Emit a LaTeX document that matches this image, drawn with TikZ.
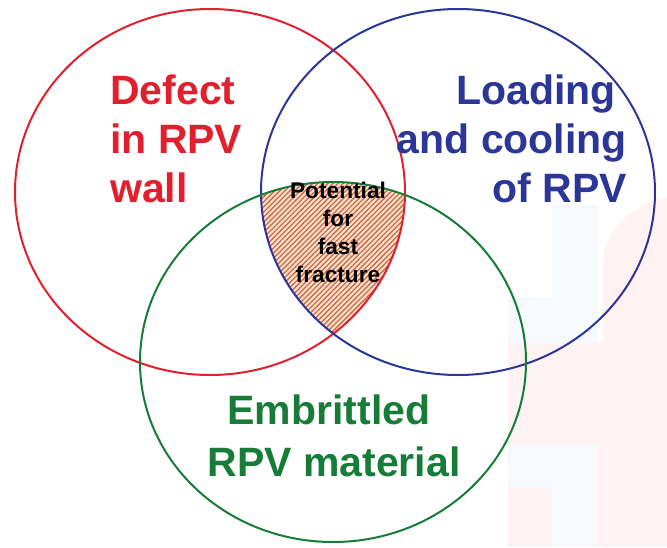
\documentclass[tikz,border=0pt]{standalone}
\usepackage{fontspec}
\setmainfont{Liberation Sans}
\usetikzlibrary{patterns.meta}

\definecolor{vred}{RGB}{224,32,44}
\definecolor{vblue}{RGB}{44,54,150}
\definecolor{vgreen}{RGB}{22,124,56}
\definecolor{hatchline}{RGB}{206,104,66}
\definecolor{hatchbg}{RGB}{250,226,208}
\definecolor{wmpink}{RGB}{254,242,242}
\definecolor{wmblue}{RGB}{246,249,254}

\begin{document}
\begin{tikzpicture}[x=1pt,y=-1pt,
  ring/.style={line width=2pt},
  biglabel/.style={font=\fontsize{41}{49}\selectfont\bfseries, inner sep=0pt},
  smalllabel/.style={font=\fontsize{22.7}{28}\selectfont\bfseries, inner sep=0pt, text=black},
]
\useasboundingbox (0,0) rectangle (667,547);

% faint logo watermark on the right
\fill[wmblue] (552,205) rectangle (598,343);
\fill[wmblue] (508,297) rectangle (598,343);
\fill[wmpink] (508,343) rectangle (667,547);
\fill[wmpink] (603,343) -- (603,265) .. controls (603,230) and (630,205) .. (667,198) -- (667,343) -- cycle;
\fill[wmblue] (508,445) rectangle (598,487);
\fill[wmblue] (552,487) rectangle (598,547);

% triple overlap: hatched region
\begin{scope}
  \clip (210,192) ellipse [x radius=195, y radius=183];
  \clip (458,192) ellipse [x radius=197, y radius=183];
  \fill[hatchbg] (333,362) ellipse [x radius=193, y radius=180];
  \fill[pattern={Lines[angle=45, distance=3.6pt, line width=1.3pt]}, pattern color=hatchline]
    (333,362) ellipse [x radius=193, y radius=180];
\end{scope}

% the three sets
\draw[ring, vred]   (210,192) ellipse [x radius=195, y radius=183];
\draw[ring, vblue]  (458,192) ellipse [x radius=197, y radius=183];
\draw[ring, vgreen] (333,362) ellipse [x radius=193, y radius=180];

% labels of the sets
\node[biglabel, text=vred, anchor=base west] (defect1) at (110,104) {Defect};
\node[biglabel, text=vred, anchor=base west] (defect2) at (110,153) {in RPV};
\node[biglabel, text=vred, anchor=base west] (defect3) at (110,202) {wall};

\node[biglabel, text=vblue, anchor=base east] (load1) at (616,104) {Loading};
\node[biglabel, text=vblue, anchor=base east] (load2) at (627,153) {and cooling};
\node[biglabel, text=vblue, anchor=base east] (load3) at (627,202) {of RPV};

\node[biglabel, text=vgreen, anchor=base] (emb1) at (329,424) {Embrittled};
\node[biglabel, text=vgreen, anchor=base] (emb2) at (334,476) {RPV material};

% label of the overlap
\node[smalllabel, anchor=base] (pot1) at (338,198) {Potential};
\node[smalllabel, anchor=base] (pot2) at (338,226) {for};
\node[smalllabel, anchor=base] (pot3) at (338,254) {fast};
\node[smalllabel, anchor=base] (pot4) at (338,282) {fracture};
\end{tikzpicture}
\end{document}
